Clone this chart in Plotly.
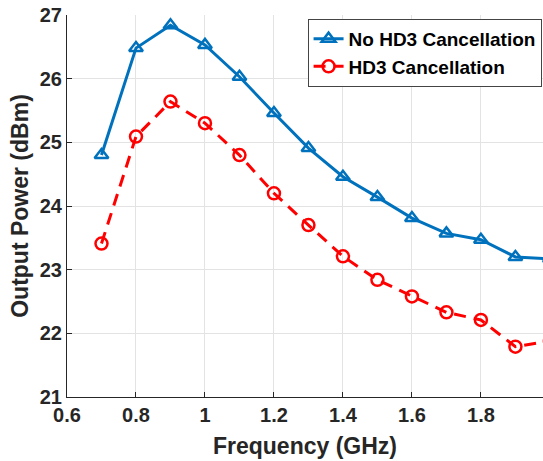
import plotly.graph_objects as go

freq = [0.7, 0.8, 0.9, 1.0, 1.1, 1.2, 1.3, 1.4, 1.5, 1.6, 1.7, 1.8, 1.9, 2.0]
no_hd3 = [24.80, 26.48, 26.84, 26.53, 26.03, 25.46, 24.91, 24.46, 24.14, 23.81, 23.57, 23.47, 23.20, 23.17]
hd3 = [23.41, 25.09, 25.64, 25.30, 24.80, 24.20, 23.70, 23.21, 22.84, 22.58, 22.33, 22.21, 21.79, 21.88]

x_ticks = [0.6, 0.8, 1.0, 1.2, 1.4, 1.6, 1.8]
x_tick_text = ["0.6", "0.8", "1", "1.2", "1.4", "1.6", "1.8"]
y_ticks = [21, 22, 23, 24, 25, 26, 27]

FONT = "Liberation Sans, Arial, Helvetica, sans-serif"
AX = "#262626"

fig = go.Figure()
fig.add_trace(go.Scatter(
    x=freq, y=no_hd3, mode="lines+markers", name="No HD3 Cancellation",
    line=dict(color="#0072BD", width=3),
    marker=dict(symbol="triangle-up-open", size=12, color="#0072BD",
                line=dict(width=2.5, color="#0072BD")),
))
fig.add_trace(go.Scatter(
    x=freq, y=hd3, mode="lines+markers", name="HD3 Cancellation",
    line=dict(color="#FF0000", width=3, dash="12px,8px"),
    marker=dict(symbol="circle-open", size=12, color="#FF0000",
                line=dict(width=2.5, color="#FF0000")),
))

axis_common = dict(
    showgrid=True, gridcolor="#e3e3e3", gridwidth=1,
    showline=True, linecolor=AX, linewidth=1,
    ticks="inside", ticklen=5, tickcolor=AX,
    zeroline=False, automargin=False,
    tickfont=dict(family=FONT, size=20, color=AX, weight="bold"),
)

fig.update_layout(
    width=543, height=461, autosize=False,
    margin=dict(l=67, r=0, t=15, b=64, autoexpand=False),
    plot_bgcolor="white", paper_bgcolor="white",
    xaxis=dict(range=[0.6, 1.98], tickvals=x_ticks, ticktext=x_tick_text,
               title=dict(text="Frequency (GHz)", standoff=12,
                          font=dict(family=FONT, size=23, color=AX, weight="bold")),
               **axis_common),
    yaxis=dict(range=[21, 27], tickvals=y_ticks,
               title=dict(text="Output Power (dBm)", standoff=4,
                          font=dict(family=FONT, size=23, color=AX, weight="bold")),
               **axis_common),
    legend=dict(x=0.997, y=0.99, xanchor="right", yanchor="top",
                bgcolor="white", bordercolor="#444444", borderwidth=1,
                font=dict(family=FONT, size=19, color="black", weight="bold"),
                itemwidth=30, tracegroupgap=0),
)

fig.write_html("out.html", config={"displayModeBar": False},
               post_script="document.body.style.margin='0';")
